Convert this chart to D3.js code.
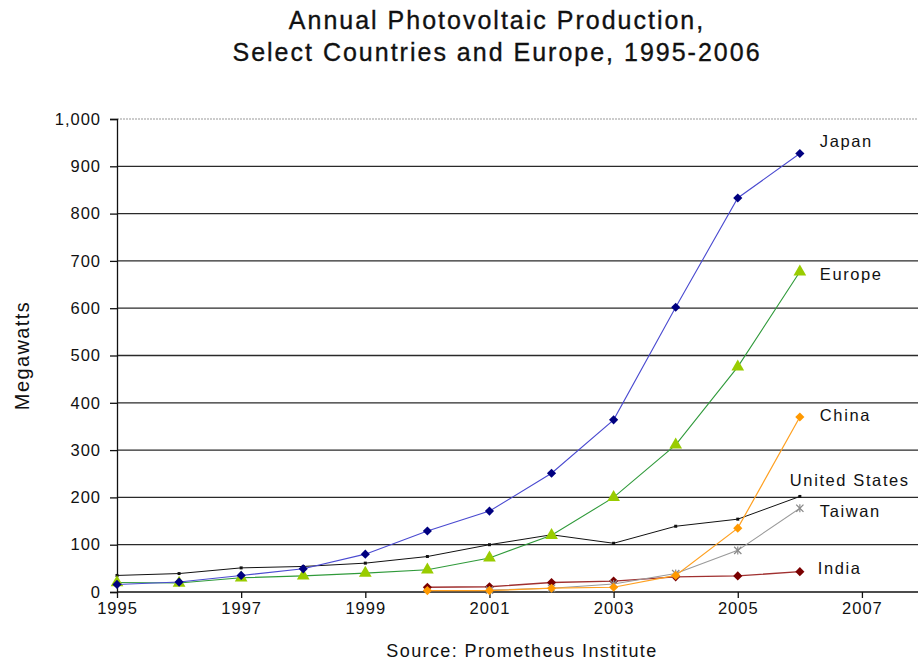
<!DOCTYPE html>
<html>
<head>
<meta charset="utf-8">
<script src="https://cdn.jsdelivr.net/npm/d3@7/dist/d3.min.js"></script>
<style>
  html, body { margin: 0; padding: 0; background: #fff; }
  svg { display: block; }
  text { font-family: "Liberation Sans", Arial, sans-serif; fill: #111; }
</style>
</head>
<body>
<svg id="chart" width="918" height="661"></svg>
<script>
// Annual photovoltaic production (MW) by country / region
const years = [1995, 1996, 1997, 1998, 1999, 2000, 2001, 2002, 2003, 2004, 2005, 2006];
const japan = [16, 21, 35, 49, 80, 129, 171, 251, 364, 602, 833, 927];
const europe = [20, 19, 30, 34, 40, 47, 72, 120, 200, 311, 476, 677];
const unitedStates = [35, 39, 51, 54, 61, 75, 100, 121, 103, 139, 154, 202];
const china = [null, null, null, null, null, 3, 3, 8, 10, 35, 135, 370];
const taiwan = [null, null, null, null, null, null, 4, 8, 17, 39, 88, 177];
const india = [null, null, null, null, null, 10, 11, 20, 23, 32, 34, 43];

const yTicks = [0, 100, 200, 300, 400, 500, 600, 700, 800, 900, 1000];
const xTicks = [1995, 1997, 1999, 2001, 2003, 2005, 2007];

const seriesNames = ["Japan", "Europe", "China", "United States", "Taiwan", "India"];

const svg = d3.select("#chart");

const x = d3.scaleLinear().domain([1995, 2008]).range([117, 924]);
const y = d3.scaleLinear().domain([0, 1000]).range([592, 119]);

// Title
const titleStyle = sel => sel.attr("text-anchor", "middle")
  .style("font-size", "25px").style("letter-spacing", "2px")
  .attr("fill", "#111").attr("stroke", "#111").attr("stroke-width", 0.35);
svg.append("text").attr("x", 497).attr("y", 29).call(titleStyle)
  .text("Annual Photovoltaic Production,");
svg.append("text").attr("x", 497).attr("y", 61).call(titleStyle)
  .text("Select Countries and Europe, 1995-2006");

// Horizontal gridlines
svg.append("g").selectAll("line")
  .data(yTicks.filter(d => d > 0 && d < 1000))
  .join("line")
  .attr("x1", x(1995)).attr("x2", 918)
  .attr("y1", d => y(d)).attr("y2", d => y(d))
  .attr("stroke", "#2a2a2a").attr("stroke-width", 1.3);

// Top border of the plot area
svg.append("line")
  .attr("x1", x(1995)).attr("x2", 918)
  .attr("y1", y(1000)).attr("y2", y(1000))
  .attr("stroke", "#9a9a9a").attr("stroke-width", 1.2)
  .attr("stroke-dasharray", "2,1");

const tickText = sel => sel.style("font-size", "16.5px")
  .style("letter-spacing", "1px")
  .style("font-family", "Liberation Sans, Arial, sans-serif").attr("fill", "#222");

// Y axis
const yAxis = d3.axisLeft(y).tickValues(yTicks).tickSize(7).tickPadding(9)
  .tickFormat(d3.format(","));
const gy = svg.append("g").attr("transform", `translate(${x(1995)},0)`).call(yAxis);
gy.select(".domain").attr("stroke", "#111").attr("stroke-width", 1.3);
gy.selectAll(".tick line").attr("stroke", "#111").attr("stroke-width", 1.3);
gy.selectAll(".tick text").call(tickText);

// X axis
const xAxis = d3.axisBottom(x).tickValues(xTicks).tickSize(6).tickPadding(4)
  .tickFormat(d3.format("d"));
const gx = svg.append("g").attr("transform", `translate(0,${y(0)})`).call(xAxis);
gx.select(".domain").attr("stroke", "#111").attr("stroke-width", 1.3)
  .attr("d", `M${x(1995)},0H918`);
gx.selectAll(".tick line").attr("stroke", "#111").attr("stroke-width", 1.3);
gx.selectAll(".tick text").call(tickText);

// Axis title
svg.append("text")
  .attr("transform", `translate(29,${(y(0) + y(1000)) / 2}) rotate(-90)`)
  .attr("text-anchor", "middle").style("font-size", "20px")
  .style("letter-spacing", "1.4px").attr("fill", "#222")
  .text("Megawatts");

// Source note
svg.append("text").attr("x", 522).attr("y", 657).attr("text-anchor", "middle")
  .style("font-size", "18px").style("letter-spacing", "1.4px").attr("fill", "#222")
  .text("Source: Prometheus Institute");

// Series definitions
const series = [
  { name: "United States", values: unitedStates, line: "#111111", fill: "#111111", marker: "dot", lw: 1 },
  { name: "India", values: india, line: "#a03030", fill: "#7a0000", marker: "diamond", lw: 1.4 },
  { name: "Taiwan", values: taiwan, line: "#9a9a9a", fill: "#8a8a8a", marker: "star", lw: 1.1 },
  { name: "China", values: china, line: "#ffa020", fill: "#ff9900", marker: "diamond", lw: 1.2 },
  { name: "Europe", values: europe, line: "#2f9a3a", fill: "#99cc00", marker: "triangle", lw: 1.1 },
  { name: "Japan", values: japan, line: "#4a4ad0", fill: "#000080", marker: "diamond", lw: 1.1 }
];

const line = d3.line()
  .defined(d => d.v != null)
  .x(d => x(d.year)).y(d => y(d.v));

const symbolFor = {
  diamond: d3.symbol().type(d3.symbolSquare).size(42),
  triangle: d3.symbol().type(d3.symbolTriangle).size(70),
  star: d3.symbol().type(d3.symbolTimes).size(36),
  dot: d3.symbol().type(d3.symbolSquare).size(9)
};

series.forEach(s => {
  const pts = years.map((yr, i) => ({ year: yr, v: s.values[i] }));
  svg.append("path").datum(pts)
    .attr("fill", "none").attr("stroke", s.line).attr("stroke-width", s.lw)
    .attr("d", line);
  svg.append("g").selectAll("path")
    .data(pts.filter(p => p.v != null))
    .join("path")
    .attr("transform", p => `translate(${x(p.year)},${y(p.v)})` + (s.marker === "diamond" ? " rotate(45)" : ""))
    .attr("d", symbolFor[s.marker])
    .attr("fill", s.marker === "star" ? "none" : s.fill)
    .attr("stroke", s.marker === "star" ? s.fill : "none")
    .attr("stroke-width", 1.3);
  if (s.marker === "star") {
    svg.append("g").selectAll("line")
      .data(pts.filter(p => p.v != null))
      .join("line")
      .attr("x1", p => x(p.year)).attr("x2", p => x(p.year))
      .attr("y1", p => y(p.v) - 4).attr("y2", p => y(p.v) + 4)
      .attr("stroke", s.fill).attr("stroke-width", 1.2);
  }
});

// Series labels near the final year
const labelPos = {
  "Japan": { dx: 20, dy: -7 },
  "Europe": { dx: 20, dy: 8 },
  "China": { dx: 20, dy: 4 },
  "United States": { dx: -10, dy: -10 },
  "Taiwan": { dx: 20, dy: 9 },
  "India": { dx: 18, dy: 2 }
};
const lastVal = {
  "Japan": japan[11], "Europe": europe[11], "China": china[11],
  "United States": unitedStates[11], "Taiwan": taiwan[11], "India": india[11]
};
seriesNames.forEach(n => {
  svg.append("text")
    .attr("x", x(2006) + labelPos[n].dx)
    .attr("y", y(lastVal[n]) + labelPos[n].dy)
    .style("font-size", "16.5px").style("letter-spacing", "1.6px").attr("fill", "#222")
    .text(n);
});
</script>
</body>
</html>
